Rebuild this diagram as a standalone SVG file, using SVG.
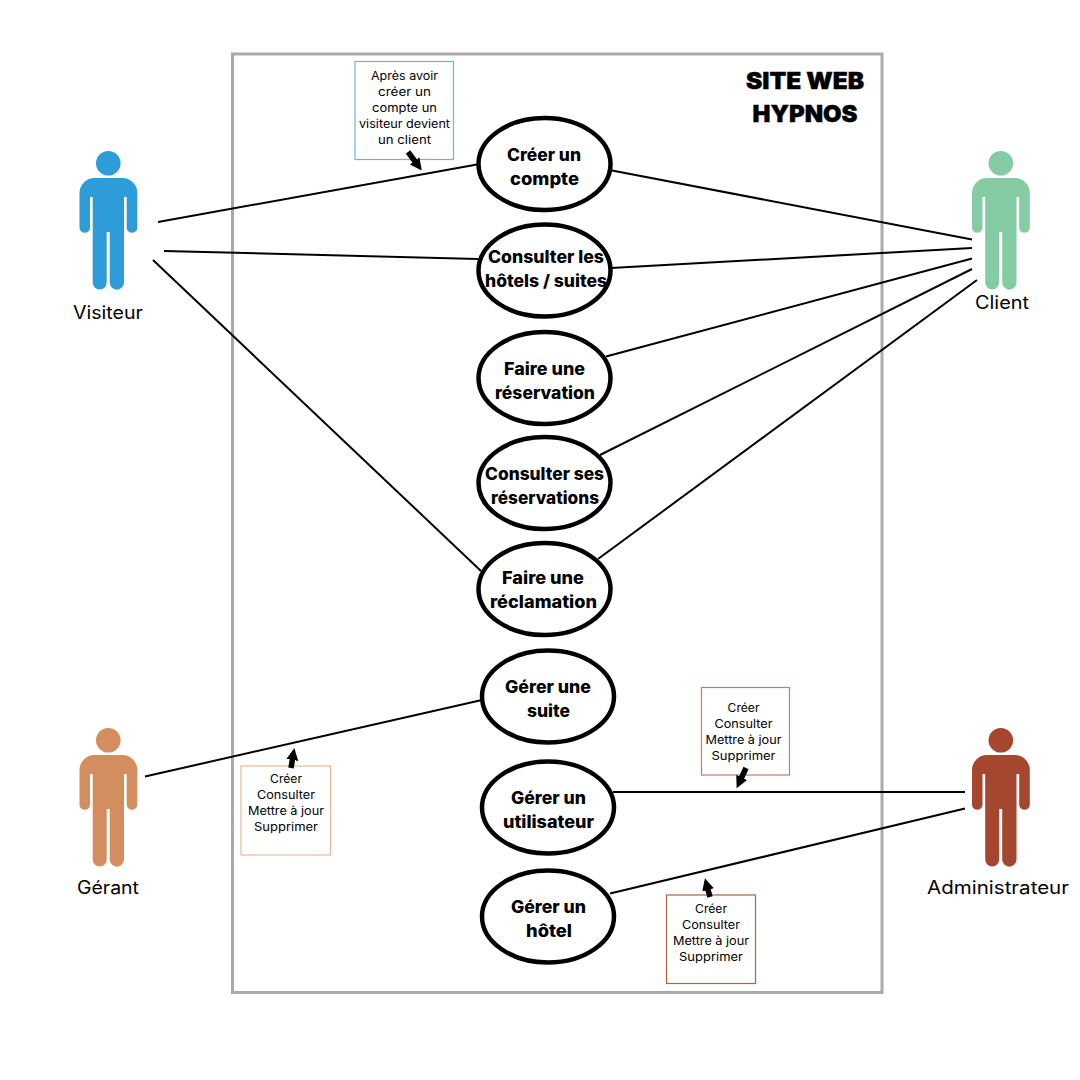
<svg xmlns="http://www.w3.org/2000/svg" xmlns:xlink="http://www.w3.org/1999/xlink" width="1080" height="1080" viewBox="0 0 1080 1080">
<style>
text{font-family:Inter,"Open Sans","Liberation Sans",sans-serif;text-anchor:middle;fill:#000}
.uc{fill:#fff;stroke:#000;stroke-width:4.5}
.ut{font-size:17px;font-weight:800}
.lb{font-size:18px;font-weight:400}
.nt{font-size:11.5px;font-weight:400}
.tt{font-size:23px;font-weight:900;stroke:#000;stroke-width:.4}
.cn{stroke:#000;stroke-width:2;fill:none}
.ar{stroke:#000;stroke-width:5.5;fill:none;marker-end:url(#ah)}
.box{fill:#fff;stroke-width:1.2}
</style>
<defs>
<marker id="ah" markerUnits="userSpaceOnUse" markerWidth="14" markerHeight="14" refX="4" refY="7" orient="auto"><path d="M0 1L12 7L0 13Z" fill="#000"/></marker>
<g id="person">
<circle cx="108.3" cy="163.2" r="12.3"/>
<path d="M79.5 193A15 15 0 0 1 94.5 178H122A15 15 0 0 1 137.3 193V227.5A5.3 5.3 0 0 1 126.7 227.5V197H124V282.5A7.15 7.15 0 0 1 109.7 282.5V232H106.7V282.5A7 7 0 0 1 92.7 282.5V197H90V227.5A5.25 5.25 0 0 1 79.5 227.5Z"/>
</g>
</defs>
<rect width="1080" height="1080" fill="#fff"/>
<g id="frame">
<rect x="232.5" y="54" width="649.5" height="938.5" fill="none" stroke="#aaa" stroke-width="3"/>
<text class="tt" x="805" y="89" textLength="118" lengthAdjust="spacingAndGlyphs">SITE WEB</text>
<text class="tt" x="805" y="122" textLength="105" lengthAdjust="spacingAndGlyphs">HYPNOS</text>
</g>
<g id="connectors">
<line class="cn" x1="158" y1="222" x2="477" y2="164.5"/>
<line class="cn" x1="164" y1="251" x2="478" y2="259"/>
<line class="cn" x1="153" y1="260" x2="481" y2="571"/>
<line class="cn" x1="612" y1="170.5" x2="972" y2="239.5"/>
<line class="cn" x1="611" y1="268" x2="972" y2="248"/>
<line class="cn" x1="606" y1="356.5" x2="972" y2="258.5"/>
<line class="cn" x1="600" y1="455" x2="972" y2="269"/>
<line class="cn" x1="598" y1="559" x2="977" y2="280"/>
<line class="cn" x1="145" y1="776.5" x2="482" y2="700"/>
<line class="cn" x1="613" y1="792" x2="965" y2="792"/>
<line class="cn" x1="610" y1="893.5" x2="965" y2="808.5"/>
</g>
<g id="visiteur" fill="#2e9cd8"><use href="#person"/><text class="lb" x="108" y="319" textLength="70" lengthAdjust="spacingAndGlyphs">Visiteur</text></g>
<g id="client" fill="#85cba4"><use href="#person" x="892.5"/><text class="lb" x="1002" y="309" textLength="54" lengthAdjust="spacingAndGlyphs">Client</text></g>
<g id="gerant" fill="#d38d5f"><use href="#person" y="577"/><text class="lb" x="108" y="894" textLength="62" lengthAdjust="spacingAndGlyphs">Gérant</text></g>
<g id="administrateur" fill="#a5472e"><use href="#person" x="892.5" y="577"/><text class="lb" x="998" y="894" textLength="142" lengthAdjust="spacingAndGlyphs">Administrateur</text></g>
<g id="uc-creer-compte"><ellipse class="uc" cx="544.5" cy="164" rx="66" ry="46"/><text class="ut" x="544" y="161" textLength="74" lengthAdjust="spacingAndGlyphs">Créer un</text><text class="ut" x="544.5" y="185" textLength="69" lengthAdjust="spacingAndGlyphs">compte</text></g>
<g id="uc-consulter-hotels"><ellipse class="uc" cx="544.5" cy="270.5" rx="66" ry="46"/><text class="ut" x="546" y="263" textLength="116" lengthAdjust="spacingAndGlyphs">Consulter les</text><text class="ut" x="546" y="287" textLength="122" lengthAdjust="spacingAndGlyphs">hôtels / suites</text></g>
<g id="uc-reservation"><ellipse class="uc" cx="544.5" cy="378" rx="66" ry="46"/><text class="ut" x="544.5" y="375" textLength="81" lengthAdjust="spacingAndGlyphs">Faire une</text><text class="ut" x="545" y="399" textLength="100" lengthAdjust="spacingAndGlyphs">réservation</text></g>
<g id="uc-consulter-reservations"><ellipse class="uc" cx="544.5" cy="483" rx="66" ry="46"/><text class="ut" x="544.5" y="480" textLength="119" lengthAdjust="spacingAndGlyphs">Consulter ses</text><text class="ut" x="545" y="504" textLength="108" lengthAdjust="spacingAndGlyphs">réservations</text></g>
<g id="uc-reclamation"><ellipse class="uc" cx="544.5" cy="589" rx="66" ry="46"/><text class="ut" x="543" y="584" textLength="82" lengthAdjust="spacingAndGlyphs">Faire une</text><text class="ut" x="543.5" y="608" textLength="107" lengthAdjust="spacingAndGlyphs">réclamation</text></g>
<g id="uc-gerer-suite"><ellipse class="uc" cx="548" cy="696.5" rx="66" ry="46"/><text class="ut" x="548" y="693" textLength="86" lengthAdjust="spacingAndGlyphs">Gérer une</text><text class="ut" x="548.5" y="717" textLength="43" lengthAdjust="spacingAndGlyphs">suite</text></g>
<g id="uc-gerer-utilisateur"><ellipse class="uc" cx="548" cy="807.5" rx="66" ry="46"/><text class="ut" x="548.5" y="804" textLength="75" lengthAdjust="spacingAndGlyphs">Gérer un</text><text class="ut" x="548.5" y="828" textLength="91" lengthAdjust="spacingAndGlyphs">utilisateur</text></g>
<g id="uc-gerer-hotel"><ellipse class="uc" cx="548" cy="916.5" rx="66" ry="46"/><text class="ut" x="548.5" y="913" textLength="75" lengthAdjust="spacingAndGlyphs">Gérer un</text><text class="ut" x="549" y="937" textLength="46" lengthAdjust="spacingAndGlyphs">hôtel</text></g>
<g id="note-visiteur"><rect class="box" x="355" y="61.5" width="98.5" height="98" stroke="#6fb3dc"/>
<text class="nt" x="404.5" y="80" textLength="67" lengthAdjust="spacingAndGlyphs">Après avoir</text><text class="nt" x="404.5" y="96" textLength="53" lengthAdjust="spacingAndGlyphs">créer un</text><text class="nt" x="404.5" y="112" textLength="65" lengthAdjust="spacingAndGlyphs">compte un</text><text class="nt" x="404.5" y="128" textLength="91" lengthAdjust="spacingAndGlyphs">visiteur devient</text><text class="nt" x="404.5" y="144" textLength="53" lengthAdjust="spacingAndGlyphs">un client</text></g>
<g id="note-gerant"><rect class="box" x="241" y="766" width="89.5" height="89" stroke="#e8b79a"/>
<text class="nt" x="286" y="783" textLength="32" lengthAdjust="spacingAndGlyphs">Créer</text><text class="nt" x="286" y="799" textLength="58" lengthAdjust="spacingAndGlyphs">Consulter</text><text class="nt" x="286" y="815" textLength="76" lengthAdjust="spacingAndGlyphs">Mettre à jour</text><text class="nt" x="286" y="831" textLength="64" lengthAdjust="spacingAndGlyphs">Supprimer</text></g>
<g id="note-admin-utilisateur"><rect class="box" x="701.5" y="687.5" width="88" height="87.5" stroke="#c47a68"/>
<text class="nt" x="743.5" y="712" textLength="32" lengthAdjust="spacingAndGlyphs">Créer</text><text class="nt" x="743.5" y="728" textLength="58" lengthAdjust="spacingAndGlyphs">Consulter</text><text class="nt" x="743.5" y="744" textLength="76" lengthAdjust="spacingAndGlyphs">Mettre à jour</text><text class="nt" x="743.5" y="760" textLength="64" lengthAdjust="spacingAndGlyphs">Supprimer</text></g>
<g id="note-admin-hotel"><rect class="box" x="666.5" y="895" width="89" height="88.5" stroke="#b35f4a"/>
<text class="nt" x="711" y="913" textLength="32" lengthAdjust="spacingAndGlyphs">Créer</text><text class="nt" x="711" y="929" textLength="58" lengthAdjust="spacingAndGlyphs">Consulter</text><text class="nt" x="711" y="945" textLength="76" lengthAdjust="spacingAndGlyphs">Mettre à jour</text><text class="nt" x="711" y="961" textLength="64" lengthAdjust="spacingAndGlyphs">Supprimer</text></g>
<g id="note-arrows">
<line class="ar" x1="408" y1="152" x2="417" y2="164"/>
<line class="ar" x1="291" y1="768" x2="293" y2="756"/>
<line class="ar" x1="746" y1="768" x2="740" y2="781"/>
<line class="ar" x1="710" y1="897" x2="707" y2="886"/>
</g>
</svg>
